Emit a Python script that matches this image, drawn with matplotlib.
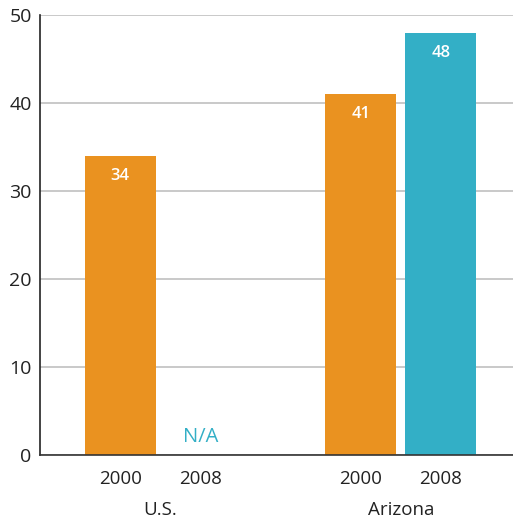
import matplotlib
matplotlib.use("Agg")
import matplotlib.pyplot as plt

groups = ["U.S.", "Arizona"]
years = ["2000", "2008", "2000", "2008"]
values = [34, None, 41, 48]
bar_colors = ["#EA9220", "#33AFC6", "#EA9220", "#33AFC6"]
positions = [0, 1, 3, 4]
yticks = [0, 10, 20, 30, 40, 50]

plt.rcParams['font.family'] = ['Open Sans', 'DejaVu Sans']

fig = plt.figure(figsize=(5.13, 5.21), dpi=100)
ax = fig.add_axes([40/513, 66/521, 473/513, 440/521])

for p, v, c in zip(positions, values, bar_colors):
    if v is None:
        ax.text(p, 2.1, "N/A", color="#33AFC6", ha="center", va="center", fontsize=14.5)
    else:
        ax.bar(p, v, width=0.8875, color=c, zorder=2)
        ax.text(p, v - 2.3, str(v), color="white", ha="center", va="center",
                fontsize=12, fontweight="semibold", zorder=3)

ax.set_xlim(-1.0, 4.9)
ax.set_ylim(0, 50)
ax.set_yticks(yticks)
ax.set_yticklabels([str(t) for t in yticks], fontsize=14, color="#222222")
ax.tick_params(axis="y", length=0, pad=6)
ax.set_xticks(positions)
ax.set_xticklabels(years, fontsize=13.5, color="#222222")
ax.tick_params(axis="x", length=0, pad=11)
ax.yaxis.grid(True, color="#c0c0c0", linewidth=1.2, zorder=0)
ax.set_axisbelow(True)
for s in ["top", "right"]:
    ax.spines[s].set_visible(False)
ax.spines["left"].set_color("#222222")
ax.spines["bottom"].set_color("#333333")
ax.spines["left"].set_linewidth(1.2)
ax.spines["bottom"].set_linewidth(1.2)

for gx, g in zip([0.5, 3.5], groups):
    ax.text(gx, -6.3, g, ha="center", va="center", fontsize=13.5, color="#222222")

fig.savefig("out.png", dpi=100)
